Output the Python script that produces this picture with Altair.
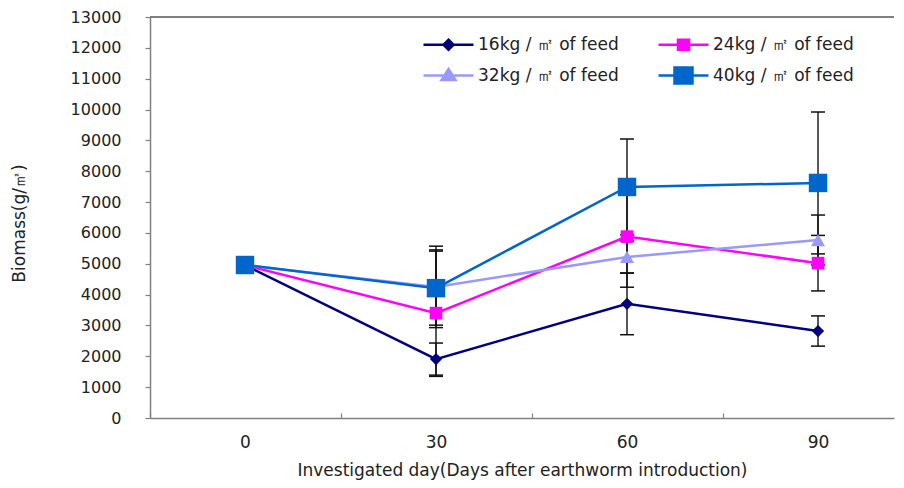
import altair as alt
import pandas as pd

days = ["0", "30", "60", "90"]
series = ["16kg / ㎡ of feed", "24kg / ㎡ of feed", "32kg / ㎡ of feed", "40kg / ㎡ of feed"]

s16 = [4950, 1910, 3700, 2820]
s24 = [4950, 3400, 5880, 5020]
s32 = [4950, 4250, 5220, 5770]
s40 = [4960, 4210, 7490, 7620]

e16 = [0, 520, 1000, 490]
e24 = [0, 2050, 1640, 900]
e32 = [0, 1320, 520, 810]
e40 = [0, 1200, 1555, 2300]

colors = ["#000080", "#FF00FF", "#9999FF", "#0066CC"]
point_shapes = ["diamond", "square", "triangle-up", "square"]
point_sizes = [150, 160, 200, 340]
legend_paths = [
    "M-5,0H5M0,-1.0L1.0,0L0,1.0L-1.0,0Z",
    "M-5,0H5M-1.1,-1.0H1.1V1.0H-1.1Z",
    "M-5,0H5M0,-1.3L1.4,0.9H-1.4Z",
    "M-5,0H5M-1.8,-1.6H1.8V1.6H-1.8Z",
]
# legend fills column by column: put entries in the order that gives rows 16|24 and 32|40
legend_order = [0, 2, 1, 3]

rows = []
for i, (name, vals, errs) in enumerate(zip(series, [s16, s24, s32, s40], [e16, e24, e32, e40])):
    for d, v, e in zip(days, vals, errs):
        rows.append(dict(day=d, series=name, order=i, value=v, err=e, lo=v - e, hi=v + e,
                         color=colors[i], shape=point_shapes[i], size=point_sizes[i]))
df = pd.DataFrame(rows)

FONT = "DejaVu Sans"
YTITLE = "Biomass(g/㎡)"

xscale = alt.Scale(type="point", domain=days, padding=0.4476, align=0.5556)
xaxis = alt.Axis(
    title="Investigated day(Days after earthworm introduction)",
    tickOffset=-95.5, labelOffset=95.5, tickSize=alt.ExprRef("-5"),
    labelAngle=0, labelFontSize=17, labelPadding=21, labelColor="#222222",
    titleFontSize=17, titleFontWeight="normal", titleColor="#222222", titleY=44,
    domainColor="#808080", domainWidth=1.5, tickColor="#808080", tickWidth=1.2,
    labelFont=FONT, titleFont=FONT, grid=False,
)
yaxis = alt.Axis(
    title=YTITLE, values=list(range(0, 13001, 1000)), format="d", tickSize=5, labelPadding=24,
    labelFontSize=16, labelColor="#222222", labelFont=FONT,
    titleFont=FONT, titleFontSize=17, titleFontWeight="normal", titleColor="#222222",
    titleX=-122, titleY=206,
    domainColor="#808080", domainWidth=1.5, tickColor="#808080", tickWidth=1.2, grid=False,
)
yscale = alt.Scale(domain=[0, 13000], nice=False)

base = alt.Chart(df)
x = alt.X("day:O", scale=xscale, axis=xaxis, sort=days)

top_border = base.mark_rule(color="#808080", strokeWidth=1.5).encode(
    y=alt.datum(13000, scale=yscale, axis=yaxis, title=YTITLE)
)

err_df = base.transform_filter("datum.err > 0")
err_rules = err_df.mark_rule(color="#111111", strokeWidth=1.4).encode(
    x=x, y=alt.Y("lo:Q", scale=yscale, axis=yaxis, title=YTITLE), y2="hi:Q"
)
err_caps = err_df.transform_fold(["lo", "hi"], as_=["end", "yv"]).mark_tick(
    color="#111111", thickness=1.5, size=14, opacity=1
).encode(x=x, y=alt.Y("yv:Q", scale=yscale, axis=yaxis, title=YTITLE))

lines = base.mark_line(strokeWidth=2.5).encode(
    x=x,
    y=alt.Y("value:Q", scale=yscale, axis=yaxis, title=YTITLE),
    color=alt.Color("color:N", scale=None),
    detail="series:N",
)
points = base.mark_point(filled=True, opacity=1).encode(
    x=x,
    y=alt.Y("value:Q", scale=yscale, axis=yaxis, title=YTITLE),
    color=alt.Color("color:N", scale=None),
    shape=alt.Shape("shape:N", scale=None),
    size=alt.Size("size:Q", scale=None),
    order=alt.Order("order:Q"),
)

leg_domain = [series[i] for i in legend_order]
leg_colors = [colors[i] for i in legend_order]
leg_paths = [legend_paths[i] for i in legend_order]

leg = alt.Legend(
    title=None, orient="none", legendX=270, legendY=19, columns=2,
    symbolSize=100, symbolStrokeWidth=2.5, symbolOffset=20, labelOffset=21,
    labelFontSize=17, labelFont=FONT, labelColor="#222222",
    columnPadding=34, rowPadding=7, symbolLimit=0,
)
legend_layer = base.transform_filter("false").mark_point(filled=True, opacity=1, strokeWidth=2.5).encode(
    fill=alt.Fill("series:N", scale=alt.Scale(domain=leg_domain, range=leg_colors), legend=leg),
    stroke=alt.Stroke("series:N", scale=alt.Scale(domain=leg_domain, range=leg_colors), legend=leg),
    shape=alt.Shape("series:N", scale=alt.Scale(domain=leg_domain, range=leg_paths), legend=leg),
)

chart = alt.layer(top_border, err_rules, err_caps, lines, points, legend_layer).properties(
    width=744, height=401,
    autosize=alt.AutoSizeParams(type="none"),
    padding={"left": 142, "top": 9, "right": 2, "bottom": 62},
    background="white",
).configure_view(stroke=None)

chart.save("out.html", embed_options={"renderer": "svg", "actions": False})
